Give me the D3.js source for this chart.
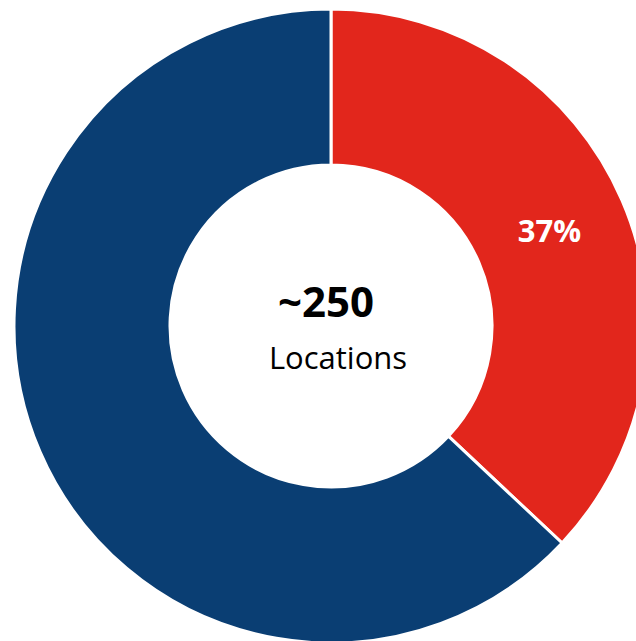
<!DOCTYPE html>
<html>
<head>
<meta charset="utf-8">
<script src="https://cdn.jsdelivr.net/npm/d3@7"></script>
<style>
  body { margin: 0; background: #fff; }
  text { font-family: "Open Sans", sans-serif; }
</style>
</head>
<body>
<div id="chart"></div>
<script>
// Slice data
var categories = ["Segment A", "Segment B"];
var values = [37, 63];
var sliceLabels = ["37%", ""];
var centerTitle = "~250";
var centerSub = "Locations";

var width = 636, height = 641;
var cx = 331, cy = 326;
var outerR = 317, innerR = 161;

var colors = d3.scaleOrdinal()
    .domain(categories)
    .range(["#E2261C", "#0A3E73"]);

var svg = d3.select("#chart")
    .append("svg")
    .attr("width", width)
    .attr("height", height);

var g = svg.append("g")
    .attr("transform", "translate(" + cx + "," + cy + ")");

var pie = d3.pie().sort(null).value(function (d) { return d; });
var arcs = pie(values);

var arc = d3.arc().innerRadius(innerR).outerRadius(outerR);
var labelArc = d3.arc().innerRadius(238).outerRadius(238);

g.selectAll("path")
    .data(arcs)
    .enter()
    .append("path")
    .attr("d", arc)
    .attr("fill", function (d, i) { return colors(categories[i]); })
    .attr("stroke", "#fff")
    .attr("stroke-width", 3);

g.selectAll("text.slice")
    .data(arcs)
    .enter()
    .append("text")
    .attr("class", "slice")
    .attr("transform", function (d) {
        var c = labelArc.centroid(d);
        return "translate(" + c[0] + "," + c[1] + ")";
    })
    .attr("text-anchor", "middle")
    .attr("dy", "0.35em")
    .style("font-size", "31px")
    .style("font-weight", "bold")
    .attr("fill", "#fff")
    .text(function (d, i) { return sliceLabels[i]; });

// Center text
g.append("text")
    .attr("text-anchor", "middle")
    .attr("x", -5)
    .attr("y", -9)
    .style("font-size", "42px")
    .style("font-weight", "bold")
    .attr("fill", "#000")
    .text(centerTitle);

g.append("text")
    .attr("text-anchor", "middle")
    .attr("x", 7)
    .attr("y", 43)
    .style("font-size", "31px")
    .attr("fill", "#000")
    .text(centerSub);
</script>
</body>
</html>
